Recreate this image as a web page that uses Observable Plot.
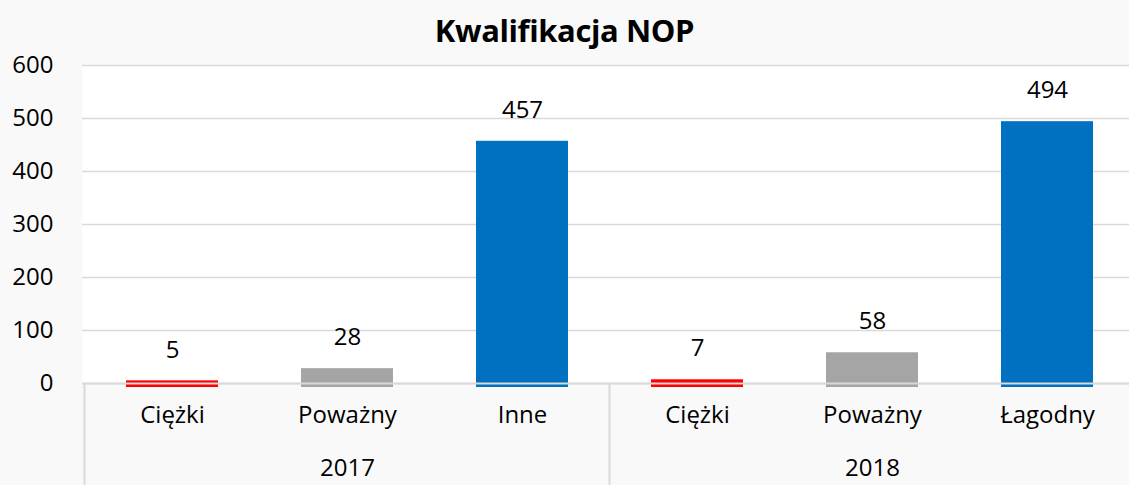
<!DOCTYPE html>
<html><head><meta charset="utf-8">
<script src="https://cdn.jsdelivr.net/npm/d3@7"></script>
<script src="https://cdn.jsdelivr.net/npm/@observablehq/plot@0.6"></script>
<style>
html,body{margin:0;padding:0;background:#f9f9f9;overflow:hidden;width:1129px;height:485px}
#wrap{position:relative;width:1129px;height:485px}
#title{position:absolute;left:0;top:10px;width:1129px;text-align:center;font:bold 31px "Open Sans";line-height:40px;color:#000;z-index:2;letter-spacing:-0.4px}
#chart{position:absolute;left:0;top:0}
</style></head><body><div id="wrap"><div id="title"></div><div id="chart"></div></div>
<script>
const title = "Kwalifikacja NOP";
const years = ["2017", "2017", "2017", "2018", "2018", "2018"];
const categories = ["Ciężki", "Poważny", "Inne", "Ciężki", "Poważny", "Łagodny"];
const values = [5, 28, 457, 7, 58, 494];
const barColors = ["#ff0000", "#a5a5a5", "#0070c0", "#ff0000", "#a5a5a5", "#0070c0"];
const yTicks = [0, 100, 200, 300, 400, 500, 600];

document.getElementById("title").textContent = title;

const keys = years.map((y, i) => y + "|" + categories[i]);
const data = keys.map((k, i) => ({key: k, year: years[i], category: categories[i], value: values[i], color: barColors[i]}));
const yearList = [...new Set(years)];
const yearLabels = yearList.map(yr => {
  const ks = keys.filter((k, i) => years[i] === yr);
  return {year: yr, key: ks[Math.floor(ks.length / 2)]};
});

function separators(index, scales, vals, dims) {
  const {x, y} = scales;
  const bw = typeof x.bandwidth === "function" ? x.bandwidth() : x.bandwidth;
  const step = x(keys[1]) - x(keys[0]);
  const half = (step - bw) / 2;
  const xs = [];
  years.forEach((yr, i) => { if (i === 0 || years[i - 1] !== yr) xs.push(x(keys[i]) - half); });
  xs.push(x(keys[keys.length - 1]) + bw + half);
  const g = d3.create("svg:g");
  const y0 = y(0);
  for (const xx of xs) {
    g.append("line").attr("x1", xx).attr("x2", xx).attr("y1", y0).attr("y2", dims.height)
      .attr("stroke", "#d9d9d9").attr("stroke-width", 2);
  }
  return g.node();
}

const chart = Plot.plot({
  width: 1129,
  height: 485,
  marginTop: 65,
  marginBottom: 102,
  marginLeft: 82,
  marginRight: -7,
  style: {background: "transparent", fontFamily: "Open Sans", fontSize: "24px", color: "#000", overflow: "visible"},
  x: {domain: keys, paddingInner: 0.475, paddingOuter: 0.2375, axis: null},
  y: {domain: [0, 600], ticks: yTicks, tickSize: 0, tickPadding: 29, label: null},
  color: {type: "identity"},
  marks: [
    Plot.frame({fill: "white", stroke: "none"}),
    Plot.ruleY(yTicks, {stroke: "#d9d9d9", strokeWidth: 1.5}),
    Plot.barY(data, {x: "key", y: "value", fill: "color", insetBottom: -4}),
    Plot.ruleY([0], {stroke: "#d9d9d9", strokeWidth: 2}),
    separators,
    Plot.text(data, {x: "key", y: "value", text: d => String(d.value), dy: -31, fontSize: 24, fill: "#000"}),
    Plot.text(data, {x: "key", text: "category", frameAnchor: "bottom", dy: 39, fontSize: 24, fill: "#000"}),
    Plot.text(yearLabels, {x: "key", text: "year", frameAnchor: "bottom", dy: 92, fontSize: 24, fill: "#000"})
  ]
});
document.getElementById("chart").appendChild(chart);
</script>
</body></html>
